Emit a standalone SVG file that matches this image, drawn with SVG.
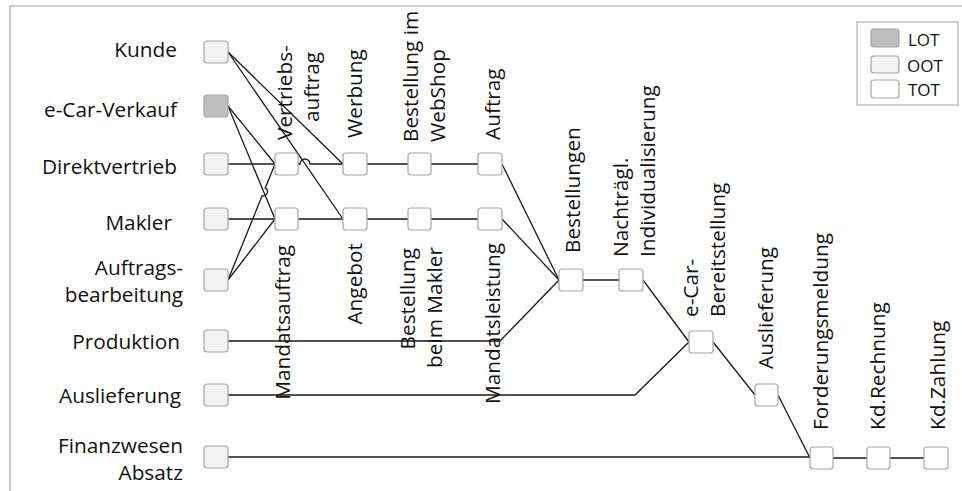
<svg xmlns="http://www.w3.org/2000/svg" width="962" height="491" viewBox="0 0 962 491">
<style>
.n{stroke:#a6a6a6;stroke-width:1.2}
.oot{fill:#f2f2f2}
.lot{fill:#bfbfbf}
.tot{fill:#ffffff}
.c{fill:none;stroke:#1a1a1a;stroke-width:1.3}
text{font-family:"Open Sans","Liberation Sans",sans-serif;font-size:20.8px;fill:#111111}
.lg{font-size:17px}
.r{text-anchor:end}
</style>
<rect x="0" y="0" width="962" height="491" fill="#ffffff"/>
<path d="M10,491 V6 H962" fill="none" stroke="#a0a0a0" stroke-width="1.2"/>

<g id="connectors">
<path class="c" d="M228,52 L343,164"/>
<path class="c" d="M228,52 L343,219"/>
<path class="c" d="M228,106 L275,164"/>
<path class="c" d="M228,106 L275,219"/>
<path class="c" d="M228,280 L262.2,195.6 A4,4 0 0 0 265.2,188.2 L275,164"/>
<path class="c" d="M228,280 L275,219"/>
<path class="c" d="M228,164 H275"/>
<path class="c" d="M298,164 H300 A5,5 0 0 1 310,164 H343"/>
<path class="c" d="M367,164 H408 M431,164 H478"/>
<path class="c" d="M228,219 H275 M298,219 H343 M367,219 H408 M431,219 H478"/>
<path class="c" d="M502,164 L559,280"/>
<path class="c" d="M502,219 L559,280"/>
<path class="c" d="M228,341 H500 L559,280"/>
<path class="c" d="M583,280 H619"/>
<path class="c" d="M643,280 L689,342"/>
<path class="c" d="M228,395 H635 L689,342"/>
<path class="c" d="M713,342 L755,395"/>
<path class="c" d="M778,395 L810,458"/>
<path class="c" d="M228,457 H810"/>
<path class="c" d="M833,458 H867 M890,458 H924"/>
</g>

<g id="kunde"><rect class="n oot" x="204" y="41" width="24" height="22" rx="3"/><text class="r" x="177" y="57">Kunde</text></g>
<g id="ecar-verkauf"><rect class="n lot" x="204" y="95" width="24" height="22" rx="3"/><text class="r" x="177" y="117">e-Car-Verkauf</text></g>
<g id="direktvertrieb"><rect class="n oot" x="204" y="153" width="24" height="22" rx="3"/><text class="r" x="177" y="174">Direktvertrieb</text></g>
<g id="makler"><rect class="n oot" x="204" y="208" width="24" height="22" rx="3"/><text class="r" x="172" y="230">Makler</text></g>
<g id="auftragsbearbeitung"><rect class="n oot" x="204" y="269" width="24" height="22" rx="3"/><text class="r" x="183" y="275">Auftrags-</text><text class="r" x="183" y="302">bearbeitung</text></g>
<g id="produktion"><rect class="n oot" x="204" y="330" width="24" height="22" rx="3"/><text class="r" x="180" y="349">Produktion</text></g>
<g id="auslieferung-row"><rect class="n oot" x="204" y="384" width="24" height="22" rx="3"/><text class="r" x="181" y="403">Auslieferung</text></g>
<g id="finanzwesen"><rect class="n oot" x="204" y="446" width="24" height="22" rx="3"/><text class="r" x="183" y="453">Finanzwesen</text><text class="r" x="183" y="480">Absatz</text></g>

<g id="vertriebsauftrag"><rect class="n tot" x="275" y="153" width="23" height="22" rx="3"/><text transform="translate(292,140) rotate(-90)">Vertriebs-</text><text transform="translate(319,122) rotate(-90)">auftrag</text></g>
<g id="werbung"><rect class="n tot" x="343" y="153" width="24" height="22" rx="3"/><text transform="translate(362,138) rotate(-90)">Werbung</text></g>
<g id="bestellung-webshop"><rect class="n tot" x="408" y="153" width="23" height="22" rx="3"/><text transform="translate(418,142) rotate(-90)">Bestellung im</text><text transform="translate(445,142) rotate(-90)">WebShop</text></g>
<g id="auftrag"><rect class="n tot" x="478" y="153" width="24" height="22" rx="3"/><text transform="translate(500,140) rotate(-90)">Auftrag</text></g>

<g id="mandatsauftrag"><rect class="n tot" x="275" y="208" width="23" height="22" rx="3"/><text style="text-anchor:end" transform="translate(290,245) rotate(-90)">Mandatsauftrag</text></g>
<g id="angebot"><rect class="n tot" x="343" y="208" width="24" height="22" rx="3"/><text style="text-anchor:end" transform="translate(362,243) rotate(-90)">Angebot</text></g>
<g id="bestellung-makler"><rect class="n tot" x="408" y="208" width="23" height="22" rx="3"/><text style="text-anchor:end" transform="translate(415,248) rotate(-90)">Bestellung</text><text style="text-anchor:end" transform="translate(442,247) rotate(-90)">beim Makler</text></g>
<g id="mandatsleistung"><rect class="n tot" x="478" y="208" width="24" height="22" rx="3"/><text style="text-anchor:end" transform="translate(500,243) rotate(-90)">Mandatsleistung</text></g>

<g id="bestellungen"><rect class="n tot" x="559" y="269" width="24" height="22" rx="3"/><text transform="translate(580,253) rotate(-90)">Bestellungen</text></g>
<g id="individualisierung"><rect class="n tot" x="619" y="269" width="24" height="22" rx="3"/><text transform="translate(628,257) rotate(-90)">Nachträgl.</text><text transform="translate(655,257) rotate(-90)">Individualisierung</text></g>
<g id="bereitstellung"><rect class="n tot" x="689" y="331" width="24" height="22" rx="3"/><text transform="translate(698,317) rotate(-90)">e-Car-</text><text transform="translate(725,317) rotate(-90)">Bereitstellung</text></g>
<g id="auslieferung"><rect class="n tot" x="755" y="384" width="23" height="22" rx="3"/><text transform="translate(773,369) rotate(-90)">Auslieferung</text></g>
<g id="forderungsmeldung"><rect class="n tot" x="810" y="447" width="23" height="22" rx="3"/><text transform="translate(828,430) rotate(-90)">Forderungsmeldung</text></g>
<g id="kd-rechnung"><rect class="n tot" x="867" y="447" width="23" height="22" rx="3"/><text transform="translate(885,430) rotate(-90)">Kd.Rechnung</text></g>
<g id="kd-zahlung"><rect class="n tot" x="924" y="447" width="24" height="22" rx="3"/><text transform="translate(945,430) rotate(-90)">Kd.Zahlung</text></g>

<g id="legend">
<rect x="857" y="22" width="101" height="83" fill="#ffffff" stroke="#a0a0a0" stroke-width="1"/>
<rect class="n lot" x="871" y="29" width="28" height="18" rx="3"/><text class="lg" x="908" y="46">LOT</text>
<rect class="n oot" x="871" y="56" width="28" height="17" rx="3"/><text class="lg" x="907" y="72">OOT</text>
<rect class="n tot" x="871" y="80" width="28" height="18" rx="3"/><text class="lg" x="908" y="96">TOT</text>
</g>
</svg>
